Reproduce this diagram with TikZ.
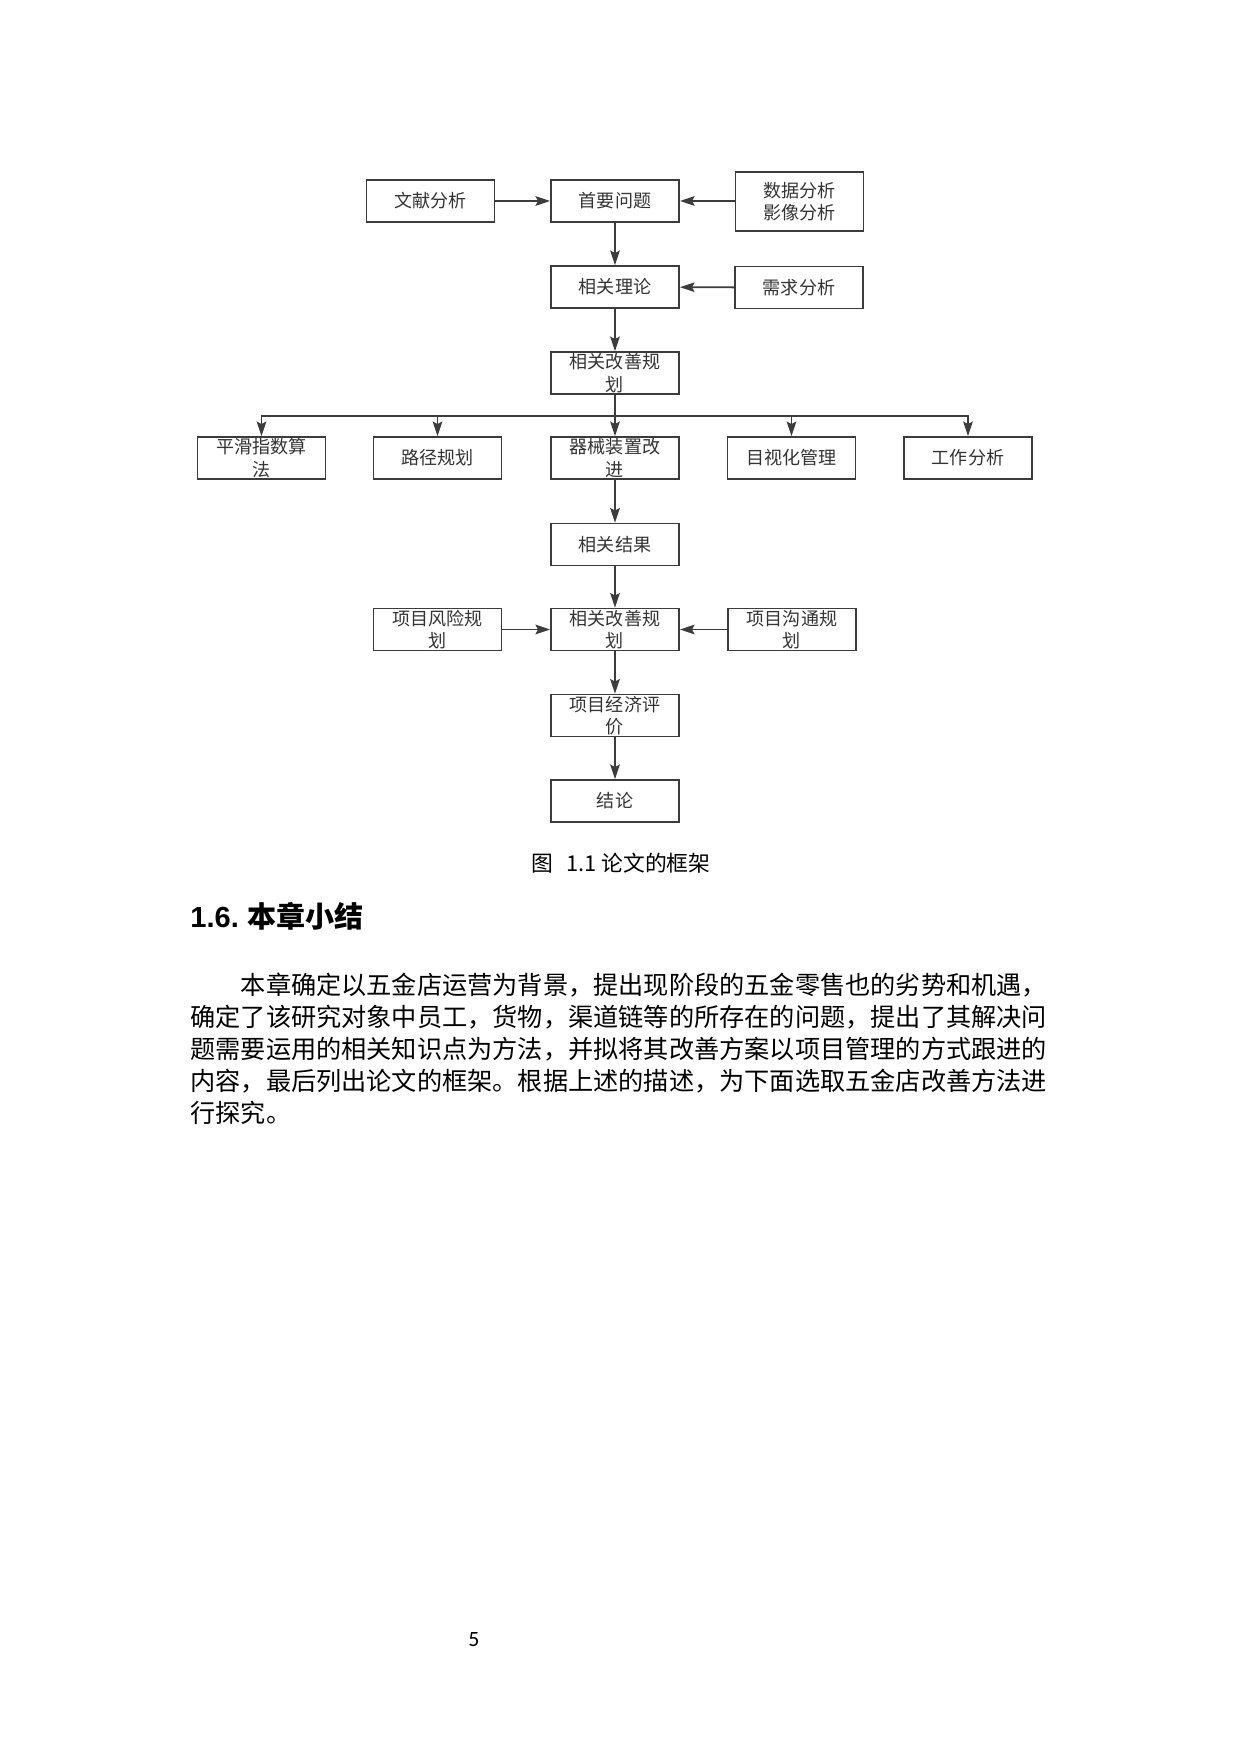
\documentclass[tikz,border=0pt]{standalone}
\usepackage{fontspec}
\usetikzlibrary{arrows.meta}
\setmainfont{Liberation Sans}
\newfontfamily\cjk{Noto Sans CJK SC}
\newfontfamily\pagefont{Carlito}
\IfFontExistsTF{FandolSong-Regular.otf}
  {\newfontfamily\song{FandolSong-Regular.otf}}
  {\newfontfamily\song{Noto Sans CJK SC}}
\definecolor{lineGray}{HTML}{3C3C3C}
\colorlet{boxText}{black!80}
\tikzset{
  block/.style={draw=lineGray,line width=0.9pt,minimum width=61.7pt,minimum height=20.2pt,
    inner sep=0pt,align=center,text=boxText,font=\cjk\fontsize{8.7}{10.8}\selectfont},
  flow/.style={draw=lineGray,line width=0.9pt,-{Stealth[length=7pt,width=4.6pt,inset=1.2pt]}},
  bodyLine/.style={anchor=west,inner sep=0pt,font=\song\fontsize{12.14}{14}\selectfont}
}

\begin{document}
\begin{tikzpicture}[x=0.4818pt,y=-0.4818pt]
\useasboundingbox (0,0) rectangle (1240,1754);
% main column
\node[block] (problem) at (615,201) {首要问题};
\node[block] (theory) at (615,287) {相关理论};
\node[block] (planA) at (615,373) {相关改善规\\划};
\node[block] (results) at (615,544.5) {相关结果};
\node[block] (planB) at (615,629.5) {相关改善规\\划};
\node[block] (economy) at (615,715.5) {项目经济评\\价};
\node[block] (conclusion) at (615,801) {结论};
% side inputs
\node[block] (literature) at (430.5,201) {文献分析};
\node[block,minimum height=28.4pt] (dataImage) at (799.5,201.5) {数据分析\\影像分析};
\node[block] (demand) at (799,287.5) {需求分析};
\node[block] (risk) at (437.5,629.5) {项目风险规\\划};
\node[block] (communication) at (792,629.5) {项目沟通规\\划};
% methods row
\foreach \name/\x/\txt in {smoothing/261.5/{平滑指数算\\法},route/437.5/{路径规划},device/615/{器械装置改\\进},visual/791.5/{目视化管理},work/968/{工作分析}}
{
	\node[block] (\name) at (\x,458) {\txt};
}
\coordinate (bus) at (615,416);

\draw[flow] (literature) -- (problem);
\draw[flow] (dataImage.west |- problem) -- (problem);
\draw[flow] (problem) -- (theory);
\draw[flow] (demand) -- (theory);
\draw[flow] (theory) -- (planA);
\draw[flow] (planA) -- (device);
\foreach \b in {smoothing,route,visual,work}
{
	\draw[flow] (planA.south) -- (bus) -| (\b.north);
}
\draw[flow] (device) -- (results);
\draw[flow] (results) -- (planB);
\draw[flow] (risk) -- (planB);
\draw[flow] (communication) -- (planB);
\draw[flow] (planB) -- (economy);
\draw[flow] (economy) -- (conclusion);

% caption, heading, text
\node[font=\cjk\fontsize{10.5}{12}\selectfont] (caption) at (621,863) {图\hspace{0.6em}1.1 论文的框架};
\node[anchor=base west,inner sep=0pt,font=\bfseries\fontsize{14}{16}\selectfont] (heading) at (190,927) {1.6.\hspace{0.3em}{\cjk\bfseries 本章小结}};
\node[bodyLine] (lineA) at (190,985) {\hspace*{2em}本章确定以五金店运营为背景，提出现阶段的五金零售也的劣势和机遇，};
\node[bodyLine] (lineB) at (190,1017) {确定了该研究对象中员工，货物，渠道链等的所存在的问题，提出了其解决问};
\node[bodyLine] (lineC) at (190,1049) {题需要运用的相关知识点为方法，并拟将其改善方案以项目管理的方式跟进的};
\node[bodyLine] (lineD) at (190,1081) {内容，最后列出论文的框架。根据上述的描述，为下面选取五金店改善方法进};
\node[bodyLine] (lineE) at (190,1113) {行探究。};
\node[font=\pagefont\fontsize{10.5}{12}\selectfont] (pageNo) at (474,1640) {5};
\end{tikzpicture}
\end{document}
